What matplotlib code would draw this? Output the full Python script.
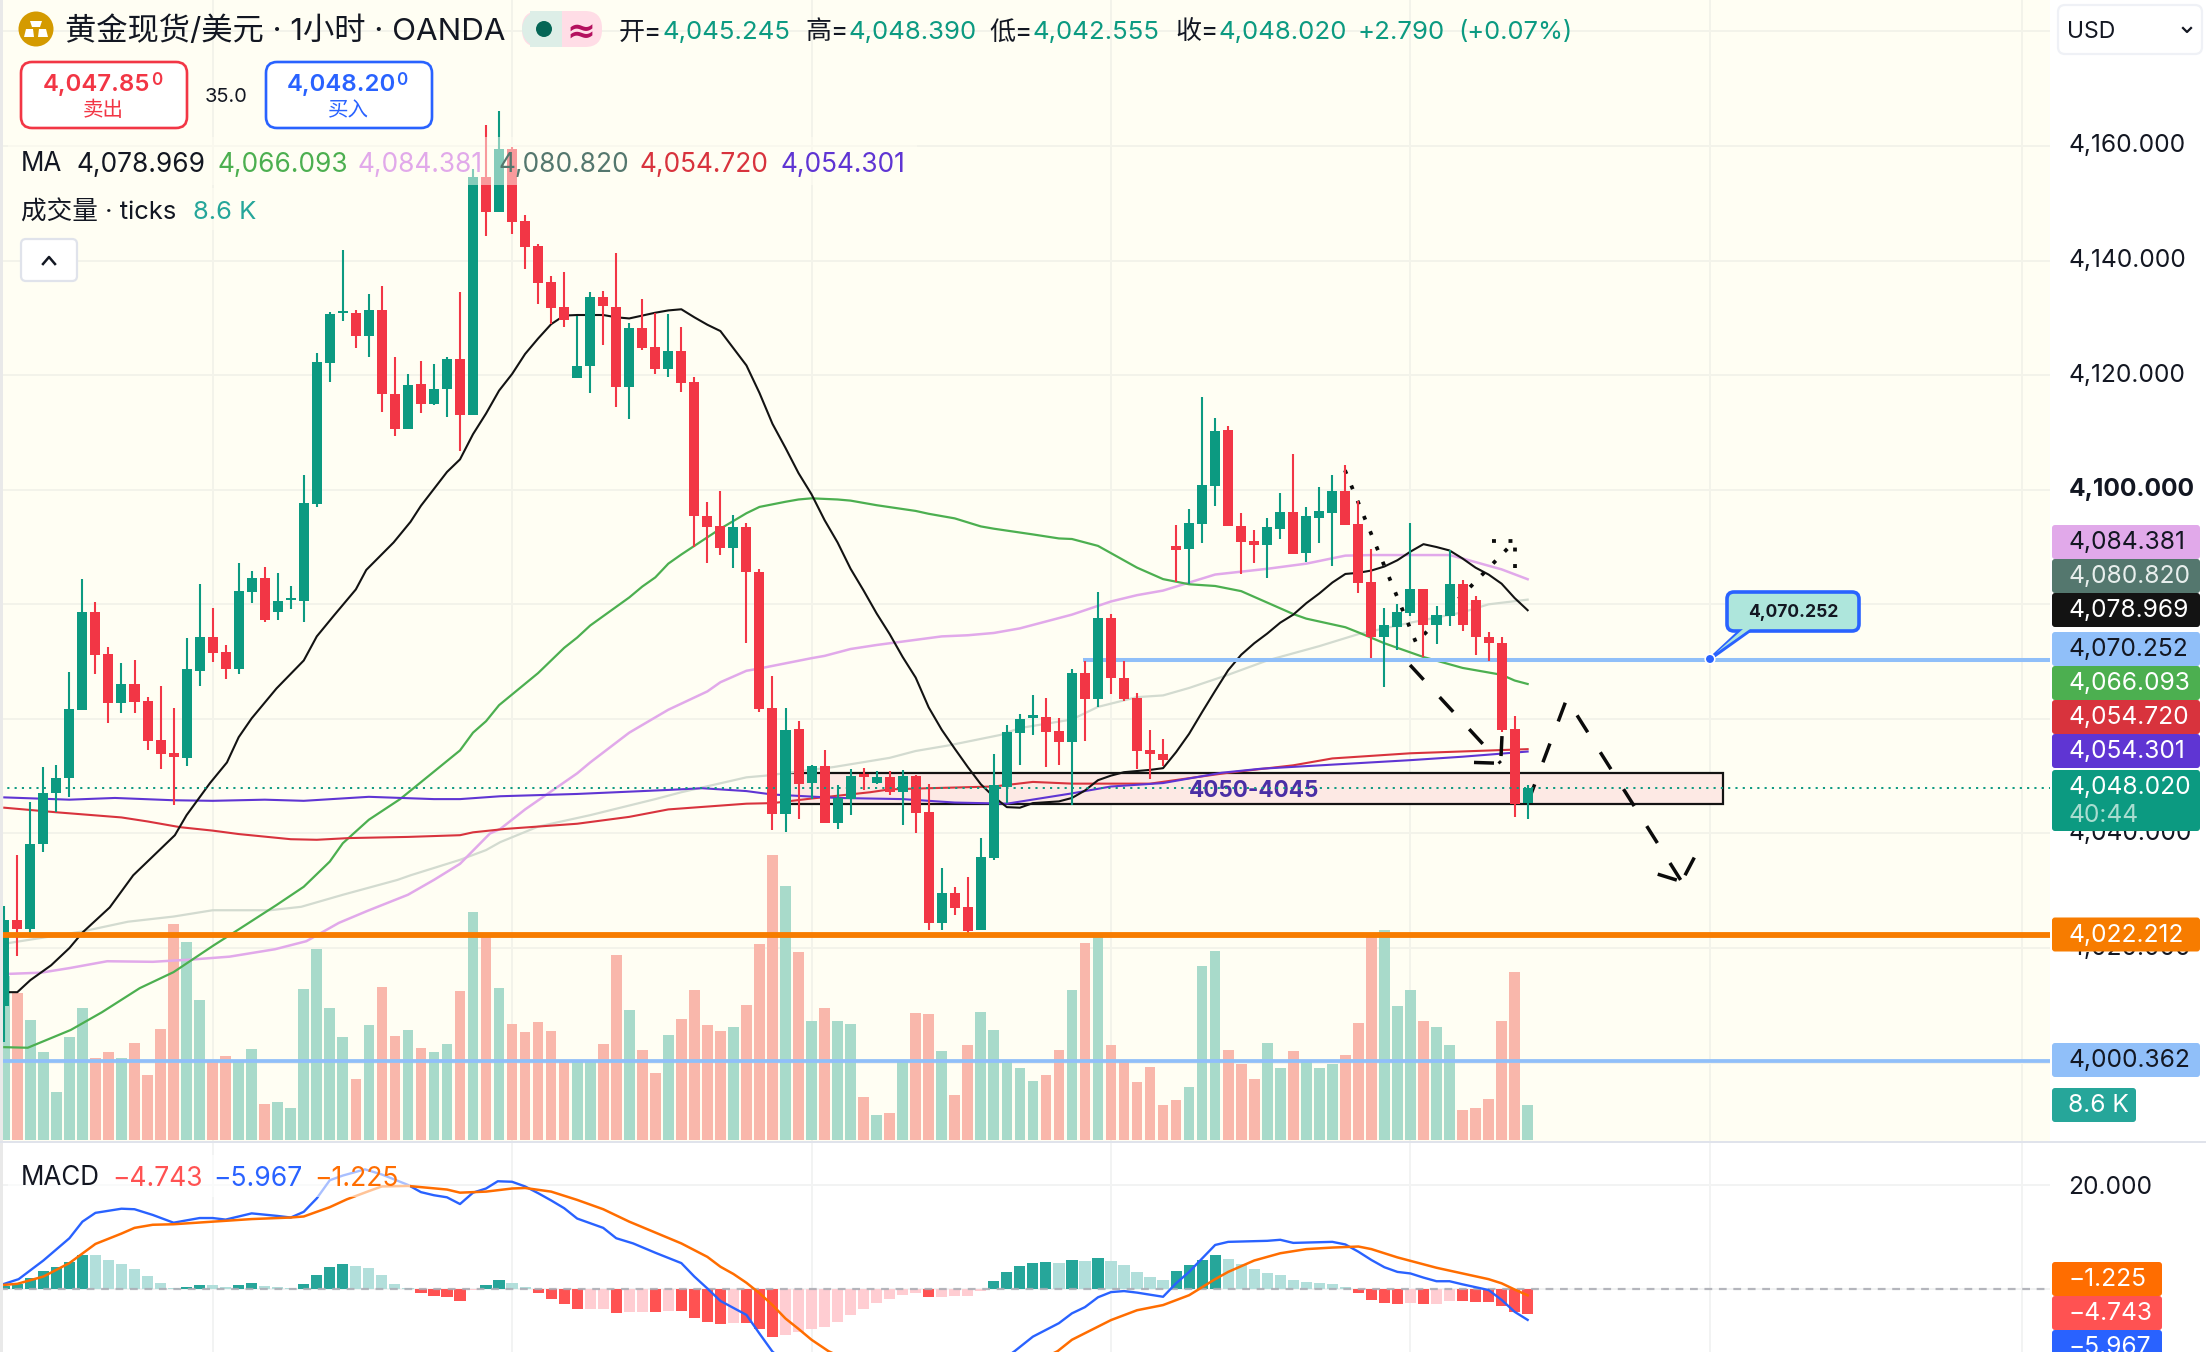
import numpy as np
import matplotlib
matplotlib.use('Agg')
import matplotlib.pyplot as plt
from matplotlib.patches import Circle, FancyBboxPatch, Polygon, Rectangle
from matplotlib.transforms import offset_copy

plt.rcParams['font.family'] = ['Inter', 'Noto Sans CJK SC', 'DejaVu Sans']

# hourly candles
bar_open = [4009.9, 4024.9, 4023.4, 4038.1, 4047.0, 4049.6, 4061.6, 4078.7, 4071.4, 4062.8,
            4066.1, 4063.1, 4056.3, 4054.1, 4053.2, 4068.4, 4074.3, 4071.7, 4068.7, 4082.2,
            4084.6, 4078.7, 4080.7, 4080.6, 4097.5, 4122.1, 4130.8, 4130.8, 4126.8, 4131.4,
            4116.7, 4110.6, 4118.5, 4115.0, 4117.5, 4122.8, 4113.0, 4154.6, 4148.5, 4159.5,
            4146.9, 4142.5, 4136.3, 4131.9, 4119.5, 4121.6, 4133.6, 4131.9, 4117.9, 4128.3,
            4124.9, 4121.1, 4124.2, 4118.8, 4095.4, 4093.6, 4089.8, 4093.5, 4085.6, 4061.9,
            4043.4, 4058.2, 4048.8, 4051.7, 4041.9, 4046.0, 4050.2, 4048.8, 4049.9, 4047.2,
            4050.0, 4043.8, 4024.4, 4029.6, 4027.2, 4023.2, 4035.7, 4048.1, 4057.6, 4060.2,
            4060.3, 4057.9, 4055.9, 4068.0, 4063.4, 4077.6, 4067.2, 4063.7, 4054.6, 4053.9,
            4090.2, 4089.7, 4094.0, 4100.6, 4110.4, 4093.7, 4091.0, 4090.4, 4093.2, 4096.1,
            4089.0, 4095.1, 4096.0, 4099.8, 4094.0, 4083.9, 4074.3, 4076.1, 4078.4, 4082.7,
            4076.4, 4077.9, 4083.6, 4080.8, 4074.3, 4073.3, 4058.2, 4045.245]
bar_high = [4027.3, 4036.3, 4045.5, 4051.6, 4052.0, 4068.2, 4084.4, 4080.4, 4072.6, 4069.8,
            4070.3, 4063.8, 4065.8, 4061.9, 4074.1, 4083.5, 4079.4, 4072.9, 4087.2, 4085.8,
            4086.5, 4085.5, 4083.2, 4102.5, 4123.9, 4131.0, 4141.8, 4131.4, 4134.2, 4135.6,
            4123.1, 4120.2, 4122.5, 4121.9, 4123.1, 4134.5, 4156.0, 4163.7, 4166.1, 4159.8,
            4148.0, 4142.9, 4137.3, 4138.0, 4130.4, 4134.5, 4134.7, 4141.3, 4129.1, 4133.3,
            4130.8, 4130.7, 4128.4, 4119.7, 4097.9, 4099.8, 4095.6, 4094.2, 4086.2, 4067.5,
            4061.9, 4059.7, 4052.0, 4054.6, 4048.4, 4051.3, 4051.4, 4050.9, 4050.9, 4051.1,
            4050.2, 4048.7, 4034.0, 4030.7, 4032.4, 4039.2, 4053.9, 4058.9, 4060.9, 4064.2,
            4063.7, 4060.2, 4068.7, 4070.1, 4082.1, 4078.3, 4070.1, 4064.6, 4058.1, 4056.5,
            4093.9, 4096.7, 4116.2, 4112.5, 4111.1, 4096.0, 4093.0, 4095.1, 4099.5, 4106.3,
            4097.0, 4100.5, 4102.6, 4104.3, 4098.0, 4089.7, 4079.4, 4080.0, 4094.2, 4082.7,
            4079.7, 4089.4, 4084.2, 4081.4, 4075.1, 4074.3, 4060.5, 4048.39]
bar_low = [4003.6, 4018.6, 4022.2, 4036.7, 4043.8, 4046.4, 4061.6, 4067.8, 4059.3, 4061.0,
           4061.0, 4054.6, 4051.3, 4044.9, 4051.7, 4065.8, 4069.9, 4067.0, 4067.8, 4080.3,
           4076.9, 4077.3, 4079.2, 4076.9, 4096.9, 4118.8, 4129.5, 4124.7, 4123.1, 4113.6,
           4109.4, 4110.6, 4113.4, 4114.8, 4112.7, 4106.8, 4113.0, 4144.3, 4148.5, 4144.6,
           4138.5, 4132.4, 4128.9, 4128.4, 4119.5, 4116.9, 4125.3, 4114.5, 4112.3, 4124.4,
           4120.2, 4119.7, 4117.0, 4090.0, 4087.2, 4088.6, 4086.4, 4073.3, 4061.2, 4040.6,
           4040.3, 4042.5, 4046.1, 4041.9, 4040.8, 4043.2, 4047.6, 4048.7, 4046.8, 4041.5,
           4040.1, 4023.2, 4023.2, 4025.8, 4022.2, 4023.2, 4035.4, 4045.3, 4051.9, 4057.2,
           4051.6, 4051.9, 4045.0, 4056.1, 4062.1, 4064.4, 4063.2, 4051.3, 4049.5, 4051.7,
           4083.9, 4083.6, 4090.7, 4097.2, 4093.7, 4085.3, 4087.2, 4084.6, 4091.4, 4088.8,
           4087.4, 4090.7, 4086.7, 4093.8, 4081.9, 4070.7, 4065.5, 4072.1, 4078.0, 4070.8,
           4073.1, 4076.2, 4075.3, 4071.2, 4070.1, 4057.8, 4042.9, 4042.555]
bar_close = [4024.9, 4023.4, 4038.2, 4047.1, 4049.7, 4061.8, 4078.7, 4071.2, 4062.8, 4066.1,
             4063.0, 4056.1, 4053.9, 4053.3, 4068.7, 4074.3, 4071.5, 4068.7, 4082.3, 4084.6,
             4077.2, 4080.6, 4080.8, 4097.6, 4122.3, 4130.7, 4131.2, 4126.8, 4131.4, 4116.7,
             4110.6, 4118.3, 4115.0, 4117.6, 4122.8, 4113.0, 4154.6, 4148.5, 4159.5, 4146.7,
             4142.4, 4136.1, 4131.7, 4129.6, 4121.6, 4133.6, 4132.0, 4117.9, 4128.3, 4124.7,
             4121.1, 4124.2, 4118.7, 4095.4, 4093.5, 4089.8, 4093.5, 4085.6, 4061.8, 4043.4,
             4058.1, 4048.7, 4051.7, 4041.9, 4046.2, 4050.0, 4049.9, 4049.9, 4047.2, 4050.0,
             4043.6, 4024.4, 4029.6, 4027.0, 4022.9, 4035.9, 4048.4, 4057.7, 4060.0, 4060.4,
             4057.7, 4055.9, 4068.0, 4063.4, 4077.6, 4067.2, 4063.5, 4054.4, 4053.9, 4052.8,
             4089.5, 4094.2, 4100.8, 4110.2, 4093.7, 4090.9, 4090.4, 4093.5, 4096.1, 4088.8,
             4095.4, 4096.3, 4099.8, 4093.8, 4083.8, 4074.3, 4076.4, 4078.6, 4082.7, 4076.4,
             4078.1, 4083.6, 4076.4, 4074.3, 4073.3, 4058.1, 4045.2, 4048.02]

# tick volume, in thousands
bar_volume = [40.2, 36.1, 29.5, 21.6, 11.8, 25.3, 32.5, 20.1, 21.6, 20.1,
              23.9, 16.0, 27.3, 53.1, 48.7, 34.4, 19.7, 20.7, 19.7, 22.4,
              8.9, 9.3, 7.9, 37.1, 47.0, 32.5, 25.3, 15.0, 28.3, 37.6,
              25.6, 27.0, 22.6, 21.6, 23.6, 36.6, 56.1, 49.8, 37.4, 28.5,
              26.6, 29.0, 26.8, 19.7, 19.7, 19.7, 23.6, 45.5, 32.0, 22.1,
              16.5, 25.8, 29.8, 36.9, 28.3, 26.8, 27.8, 33.2, 48.2, 70.1,
              62.5, 46.2, 29.3, 32.5, 29.3, 28.5, 10.6, 6.1, 6.6, 19.7,
              31.2, 31.0, 21.9, 11.1, 23.4, 31.5, 27.0, 19.7, 17.7, 14.5,
              16.0, 22.1, 36.9, 48.4, 50.0, 23.4, 19.7, 14.3, 18.0, 8.6,
              9.8, 13.0, 42.8, 46.5, 22.1, 18.7, 15.0, 23.9, 17.7, 21.9,
              19.7, 17.7, 18.7, 20.9, 28.8, 50.0, 51.6, 33.0, 36.9, 29.3,
              27.8, 23.4, 7.4, 7.9, 10.1, 29.3, 41.3, 8.6]

# moving averages, read at turning points along each line
ma_black_x = [0, 1, 2, 3.6, 5, 6, 8.1, 9.9, 13.1, 14, 15.8, 17.1, 18, 19, 20.9, 23, 24, 25.3, 27, 27.8,
              29.9, 31.2, 32, 34, 35, 36, 37, 38, 39, 40, 41, 42, 43, 44, 46, 47, 48, 49, 50, 51, 52, 53,
              54, 55, 56, 57, 58, 59, 60, 61, 62, 63, 64, 65, 66, 67, 68, 69, 70, 71, 72, 73, 74, 75, 76,
              77, 78, 79, 81, 82, 83, 84, 85, 86, 88, 89, 90, 91, 92, 93, 94, 95, 96, 97, 98, 99, 100, 101,
              102, 103, 104, 105, 106, 107, 108, 109, 110, 111, 112, 113, 114, 115, 116, 117]
ma_black_y = [4012.3, 4012.3, 4014.4, 4017.0, 4020.0, 4022.7, 4027.1, 4032.7, 4039.7, 4043.2, 4048.8,
              4052.4, 4056.8, 4060.1, 4065.3, 4070.2, 4074.4, 4078.0, 4082.6, 4086.0, 4090.8, 4094.4,
              4097.2, 4103.1, 4105.3, 4109.7, 4113.3, 4117.3, 4120.2, 4123.7, 4126.4, 4128.9, 4130.4,
              4130.5, 4130.5, 4130.1, 4129.9, 4130.4, 4130.9, 4131.3, 4131.5, 4130.1, 4128.8, 4127.7,
              4124.7, 4121.7, 4116.9, 4111.5, 4107.3, 4102.9, 4099.2, 4094.7, 4090.8, 4086.2, 4082.4,
              4078.4, 4074.8, 4070.8, 4067.2, 4062.0, 4058.1, 4054.8, 4051.6, 4048.6, 4046.4, 4044.6,
              4044.5, 4045.3, 4045.6, 4046.2, 4047.5, 4049.3, 4050.1, 4050.7, 4051.1, 4051.4, 4054.2,
              4057.4, 4061.2, 4064.9, 4068.5, 4071.2, 4073.2, 4074.9, 4076.8, 4078.2, 4080.2, 4081.9,
              4083.8, 4085.3, 4085.5, 4085.9, 4086.6, 4087.7, 4089.2, 4090.5, 4090.0, 4089.4, 4088.0,
              4086.4, 4085.2, 4083.6, 4081.1, 4078.969]
ma_green_x = [0, 1.8, 5.1, 7.5, 10.4, 13, 16.1, 18.1, 20.9, 23, 25, 26, 28, 30.4, 33, 35, 36, 37, 38, 41,
              43, 44, 45, 48, 49, 50, 51, 52, 55, 57, 58, 60, 61, 62, 64, 65, 67, 70, 71, 73, 75, 76, 79,
              81, 82, 84, 87, 89, 91, 93, 95, 96, 99, 100, 103, 104, 106, 109, 112, 115, 116, 117]
ma_green_y = [4002.7, 4002.6, 4005.7, 4008.8, 4013.0, 4015.8, 4020.5, 4023.4, 4027.5, 4030.7, 4035.1,
              4038.3, 4042.4, 4046.0, 4050.8, 4054.5, 4057.6, 4059.6, 4062.4, 4068.0, 4072.4, 4074.2,
              4076.3, 4081.2, 4083.1, 4084.7, 4087.1, 4088.7, 4093.2, 4095.9, 4097.0, 4097.9, 4098.3,
              4098.5, 4098.3, 4098.1, 4097.3, 4096.3, 4095.8, 4095.0, 4093.6, 4093.2, 4092.2, 4091.5,
              4091.4, 4090.2, 4086.4, 4084.4, 4083.5, 4083.2, 4082.3, 4081.3, 4078.3, 4077.5, 4076.0,
              4075.1, 4073.2, 4070.8, 4068.9, 4067.7, 4066.7, 4066.093]
ma_pink_x = [0.4, 2.8, 5, 7.9, 11.4, 14.4, 17.3, 20.8, 23.2, 25.7, 27.9, 31, 33, 35, 37.3, 38.1, 40, 44, 45,
             48, 51, 54, 55, 57, 58, 62, 63, 65, 67, 70, 72, 74, 76, 78, 82, 85, 87, 89, 91, 93, 97, 100,
             103, 105, 111, 112, 115, 117]
ma_pink_y = [4015.5, 4015.7, 4016.5, 4017.7, 4017.6, 4018.0, 4018.5, 4019.8, 4021.2, 4024.4, 4026.5,
             4029.3, 4031.9, 4034.7, 4040.0, 4040.8, 4044.2, 4050.5, 4052.4, 4057.6, 4061.6, 4064.8,
             4066.4, 4068.4, 4068.8, 4070.6, 4071.0, 4072.2, 4072.9, 4073.8, 4074.4, 4074.6, 4075.0,
             4075.8, 4078.2, 4080.5, 4081.6, 4082.4, 4083.8, 4085.2, 4086.2, 4087.1, 4088.5, 4088.6,
             4088.6, 4088.0, 4086.1, 4084.381]
ma_gray_x = [0.4, 6, 9.5, 13, 16, 20.4, 22.8, 26, 30.2, 31.2, 35, 37, 38.1, 41, 45, 50, 52, 57, 58.5, 63.7,
             68, 70, 72.6, 76.5, 78, 82, 84, 87, 89, 91, 94, 97, 101, 104, 108, 112, 114, 117]
ma_gray_y = [4020.9, 4022.9, 4024.6, 4025.5, 4026.6, 4026.6, 4027.2, 4029.3, 4031.9, 4032.7, 4035.4,
             4037.1, 4038.5, 4041.2, 4043.2, 4046.0, 4047.2, 4049.8, 4050.1, 4051.6, 4053.2, 4054.4,
             4055.4, 4057.2, 4058.4, 4059.9, 4062.1, 4063.8, 4064.1, 4065.4, 4067.7, 4070.2, 4072.7,
             4074.8, 4076.8, 4078.6, 4080.0, 4080.82]
ma_red_x = [0, 4, 9, 11, 13.5, 16, 18, 22, 24, 26.5, 31, 35, 36, 38.5, 44, 48, 51, 57, 59, 62, 66.5, 68, 71,
            76, 79, 82, 88, 94, 99, 102, 108, 117]
ma_red_y = [4044.5, 4043.7, 4042.8, 4042.1, 4041.1, 4040.5, 4039.9, 4039.0, 4038.9, 4039.2, 4039.4,
            4039.7, 4040.2, 4040.8, 4041.7, 4042.9, 4044.2, 4045.2, 4045.3, 4046.1, 4047.2, 4047.7,
            4047.9, 4048.2, 4049.0, 4048.7, 4048.7, 4050.6, 4051.9, 4053.1, 4054.0, 4054.72]
ma_purple_x = [0, 5, 8.5, 13, 16, 20, 23, 28, 33, 35, 38.1, 44, 51, 53.6, 57, 59, 64, 69, 73, 77, 82, 85, 89,
               93.5, 96.5, 108, 112, 117]
ma_purple_y = [4046.3, 4045.9, 4046.2, 4045.8, 4045.7, 4045.9, 4045.7, 4046.4, 4046.0, 4046.0, 4046.5,
               4046.9, 4047.6, 4047.9, 4047.4, 4046.8, 4046.2, 4046.0, 4045.4, 4045.2, 4047.0, 4048.2,
               4048.8, 4050.6, 4051.3, 4052.8, 4053.4, 4054.301]

# MACD pane
hist_values = [0.6, 1.0, 2.1, 3.5, 4.2, 5.2, 6.6, 6.6, 5.6, 4.8,
               3.9, 2.5, 1.2, 0.2, 0.4, 0.8, 0.8, 0.4, 0.8, 1.2,
               0.6, 0.4, 0.1, 1.0, 2.7, 4.2, 4.8, 4.4, 4.1, 2.7,
               1.0, 0.2, -0.8, -1.35, -1.5, -2.3, -0.2, 0.8, 1.7, 1.2,
               0.4, -0.8, -1.9, -2.9, -3.9, -3.9, -3.9, -4.6, -4.4, -4.4,
               -4.4, -4.2, -4.2, -5.6, -6.4, -6.8, -6.6, -6.6, -7.7, -9.3,
               -8.9, -8.3, -7.7, -7.3, -6.4, -5.0, -3.9, -2.7, -1.9, -1.2,
               -0.8, -1.5, -1.5, -1.35, -1.35, -0.4, 1.5, 3.3, 4.4, 5.0,
               5.2, 5.0, 5.6, 5.4, 6.0, 5.4, 4.6, 3.3, 2.3, 1.7,
               3.5, 4.6, 5.6, 6.6, 5.8, 4.8, 3.9, 3.1, 2.7, 1.7,
               1.35, 1.2, 1.0, 0.4, -0.8, -2.1, -2.7, -2.9, -2.7, -2.9,
               -2.9, -2.3, -2.3, -2.5, -2.5, -3.3, -4.4, -4.743]
hist_kind = ("GGGGGGGggg" "ggggGGggGG" "gggGGGGggg" "ggRRRRrGGg" "gRRRRrrRrr" "RrRRRRrRRR"
             "rrrrrrrrrr" "rRrrrrGGGG" "GgGgGggggg" "GGGGgggggg" "ggggRRRRrR" "rrRRRRRR")
macd_x = [0, 1.1, 3, 5, 6, 7, 9, 10, 11.4, 13, 15, 16, 17, 19, 21, 22, 23, 24, 25, 26, 27.7, 29, 31, 32, 33,
          34, 35, 36, 37, 37.9, 39, 40, 41, 42, 43, 44, 46, 47, 48.3, 50, 52, 53, 54, 55, 57, 58, 59, 65,
          72, 77.6, 79, 81, 82, 83, 84, 85, 86, 87, 89, 90, 91, 92, 93, 94, 97, 98, 99, 102, 103, 104, 105,
          106, 107, 108, 109, 110, 111, 112, 114, 115, 116, 117]
macd_y = [1.0, 1.9, 5.5, 9.8, 13.0, 14.7, 15.5, 15.4, 14.3, 12.8, 13.7, 13.7, 13.4, 14.6, 14.1, 13.8, 14.9,
          17.5, 21.0, 21.9, 23.1, 22.1, 20.1, 18.7, 18.1, 17.7, 16.4, 18.6, 19.4, 20.8, 20.7, 19.8, 18.5,
          17.1, 15.6, 13.6, 11.8, 9.8, 8.8, 7.0, 5.0, 2.4, 0.1, -2.3, -5.0, -8.6, -12.1, -24.0, -22.0, -12.0,
          -9.2, -6.6, -4.7, -3.5, -1.6, -0.6, -0.4, -0.7, -1.5, 1.1, 3.3, 5.9, 8.5, 9.1, 9.3, 9.5, 8.9, 9.1,
          8.6, 7.2, 5.6, 4.2, 3.3, 3.0, 2.2, 1.5, 1.5, 0.9, -0.2, -2.1, -4.4, -5.967]
signal_x = [0, 1, 3, 5, 7, 9, 10, 11.4, 13, 16, 19, 22, 23, 25, 26.3, 28, 29, 31, 34, 35, 37, 39, 40, 42, 44,
            46, 48, 50, 52, 54, 55, 56, 57, 58, 59, 60, 61, 62, 63.3, 70, 76, 80.9, 82, 85, 87, 89, 91, 93,
            94, 96, 98, 100, 102, 104, 105, 107, 110, 112, 114, 115, 116, 117]
signal_y = [0.8, 1.0, 2.4, 5.0, 8.7, 10.7, 11.8, 12.4, 12.5, 13.0, 13.5, 13.8, 14.0, 15.8, 17.3, 18.9, 19.8,
            19.9, 19.2, 18.6, 18.8, 19.4, 19.5, 18.8, 17.2, 15.4, 13.0, 10.9, 8.8, 6.2, 4.3, 2.9, 1.2, -0.8,
            -3.1, -5.7, -7.7, -9.8, -12.0, -20.0, -18.0, -12.0, -9.8, -6.0, -4.1, -3.1, -1.2, 1.9, 3.3, 5.5,
            6.9, 7.7, 8.0, 8.2, 7.7, 6.1, 4.1, 3.0, 1.9, 1.1, -0.1, -1.225]

# horizontal levels and the marked zone
level_orange = 4022.212
level_blue_low = 4000.362
level_blue_high = 4070.252
last_price = 4048.02
zone_top, zone_bottom = 4050.6, 4045.1
zone_start, zone_end = 60, 132.03
zone_text_x = 95.95

# hand drawn paths: bar number, price
arrow1_x = [107.97, 114.93]
arrow1_y = [4069.4, 4052.25]
arrow1_barb_x = [112.88, 114.93, 115.03]
arrow1_barb_y = [4052.4, 4052.25, 4057.0]
arrow2_x = [117.0, 120.0, 128.83]
arrow2_y = [4045.3, 4063.5, 4031.6]
arrow2_barb_x = [126.99, 128.83, 129.8]
arrow2_barb_y = [4032.9, 4031.6, 4035.8]
dots_x = [102.97, 108.43, 116.0]
dots_y = [4103.4, 4073.3, 4091.0]
dots_barb_x = [114.3, 116.0, 116.0]
dots_barb_y = [4091.0, 4091.0, 4086.4]

price_ticks = [4180, 4160, 4140, 4120, 4100, 4080, 4060, 4040, 4020, 4000]
price_labels = [4160, 4140, 4120, 4100, 4040, 4020]
session_bars = [16, 39, 62, 85, 108, 131, 155]

tag_values = [4084.381, 4080.820, 4078.969, 4070.252, 4066.093, 4054.720, 4054.301, 4022.212, 4000.362]
tag_tops = [525, 559, 593, 632, 666, 700, 734, 917.5, 1043]
tag_fill = ['#E1A9EA', '#54776E', '#131313', '#90BFF9', '#4CAF50', '#D8333D', '#5F35D3', '#F77C00', '#90BFF9']
tag_ink = ['#131722', '#E8EEEC', 'white', '#131722', 'white', 'white', 'white', 'white', '#131722']

INK = '#131722'
CREAM = '#FFFEF3'
UP, DOWN = '#0C9A81', '#F23645'
GRID = '#F3F3EA'
FIG_W, FIG_H = 2206, 1352
PANE_R = 2050
BAR0, STEP = 4.3, 13.02
PX_PER_USD = 5.729
PX_PER_MACD = 5.18

fig = plt.figure(figsize=(FIG_W / 100, FIG_H / 100), dpi=100, facecolor='white')


def pane(top, bottom, zorder):
    ax = fig.add_axes([0, 1 - bottom / FIG_H, PANE_R / FIG_W, (bottom - top) / FIG_H], zorder=zorder)
    ax.set_xlim(-BAR0 / STEP, (PANE_R - BAR0) / STEP)
    ax.tick_params(length=0, labelbottom=False, labelleft=False)
    for s in ax.spines.values():
        s.set_visible(False)
    return ax


x = np.arange(len(bar_open))
o, h, l, c = map(np.array, (bar_open, bar_high, bar_low, bar_close))
rising = c >= o

# background and grid
price_lim = (4160 - (1141 - 146) / PX_PER_USD, 4160 + 146 / PX_PER_USD)
ax_grid = pane(0, 1141, 1)
ax_grid.set_facecolor(CREAM)
ax_grid.set_ylim(price_lim)
ax_grid.set_xticks(session_bars)
ax_grid.set_yticks(price_ticks)
ax_grid.grid(True, color=GRID, lw=1.4)
ax_grid.set_axisbelow(True)

# volume sits at the bottom of the price pane
ax_vol = pane(0, 1141, 2)
ax_vol.patch.set_visible(False)
ax_vol.set_xticks([])
ax_vol.set_yticks([])
ax_vol.set_ylim(-1 / 4.07, 1140 / 4.07)
ax_vol.bar(x, bar_volume, width=0.82, color=np.where(rising, '#A8DACA', '#F9B7AB'), linewidth=0)

ax = pane(0, 1141, 3)
ax.patch.set_visible(False)
ax.set_xticks([])
ax.set_yticks([])
ax.set_ylim(price_lim)

ax.add_patch(Rectangle((zone_start, zone_bottom), zone_end - zone_start, zone_top - zone_bottom,
                       facecolor='#FDE9E4', edgecolor='#131313', lw=1.6, zorder=1))
ax.text(zone_text_x, np.mean([zone_top, zone_bottom]), '4050-4045', color='#4A2FA5',
        fontsize=16.2, fontweight='bold', ha='center', va='center_baseline', zorder=1.5)

ax.plot(ma_gray_x, ma_gray_y, color='#D3DBD0', lw=1.6, zorder=2)
ax.plot(ma_pink_x, ma_pink_y, color='#E1A9EA', lw=1.8, zorder=2)
ax.plot(ma_green_x, ma_green_y, color='#4CAF50', lw=1.6, zorder=2)
ax.plot(ma_red_x, ma_red_y, color='#D8333D', lw=1.5, zorder=2)
ax.plot(ma_purple_x, ma_purple_y, color='#5F35D3', lw=1.5, zorder=2)
ax.plot(ma_black_x, ma_black_y, color='#131313', lw=1.5, zorder=2)

ax.hlines(level_blue_high, 82.85, ax.get_xlim()[1], color='#90BFF9', lw=2.9, zorder=2.5)

# drawings
dash = dict(color='#0B0B0B', lw=2.5, linestyle=(0, (5.76, 6.8)), zorder=3, dash_capstyle='butt')
ax.plot(arrow1_x, arrow1_y, **dash)
ax.plot(arrow2_x, arrow2_y, **dash)
for bx, by in ((arrow1_barb_x, arrow1_barb_y), (arrow2_barb_x, arrow2_barb_y)):
    ax.plot(bx[:2], by[:2], **dash)
    ax.plot(bx[:0:-1], by[:0:-1], **dash)
dots = dict(color='#0B0B0B', lw=2.7, linestyle=(0, (1.05, 3.35)), zorder=3, dash_capstyle='butt')
ax.plot(dots_x, dots_y, **dots)
ax.plot(dots_barb_x[:2], dots_barb_y[:2], **dots)
ax.plot(dots_barb_x[:0:-1], dots_barb_y[:0:-1], **dots)

# candles
ax.vlines(x, l, h, colors=np.where(rising, UP, DOWN), lw=1.5, zorder=4)
ax.bar(x, np.maximum(np.abs(c - o), 0.4), bottom=np.minimum(o, c), width=0.77,
       color=np.where(rising, UP, DOWN), linewidth=0, zorder=4)

ax.axhline(level_orange, color='#F77C00', lw=4.2, zorder=5)
ax.axhline(level_blue_low, color='#90BFF9', lw=2.7, zorder=5)
ax.axhline(last_price, color=UP, lw=1.4, linestyle=(0, (1.1, 2.65)), zorder=6)

# price scale text
label_tf = offset_copy(ax.get_yaxis_transform(), fig, x=18.5, y=2.5, units='dots')
for p in price_labels:
    ax.text(1, p, f'{p:,.3f}', transform=label_tf, clip_on=False, fontsize=17.7, color=INK, va='center_baseline',
            fontweight='bold' if p == 4100 else 'normal', zorder=1)

# MACD
ax_m = pane(1143, FIG_H, 3)
ax_m.set_ylim((1289 - FIG_H) / PX_PER_MACD, (1289 - 1143) / PX_PER_MACD)
ax_m.set_xticks(session_bars)
ax_m.set_yticks([0, 20])
ax_m.grid(True, color='#F2F3F3', lw=1.4)
ax_m.set_axisbelow(True)
kinds = {'G': '#26A69A', 'g': '#B2DFDB', 'R': '#FF5252', 'r': '#FFCDD2'}
ax_m.bar(x, hist_values, width=0.86, color=[kinds[k] for k in hist_kind], linewidth=0, zorder=2)
ax_m.axhline(0, color='#A9ABB3', lw=1.6, alpha=0.85, linestyle=(0, (3.5, 3)), zorder=3)
ax_m.plot(macd_x, macd_y, color='#2962FF', lw=1.7, zorder=4)
ax_m.plot(signal_x, signal_y, color='#FF6D00', lw=1.8, zorder=4)
ax_m.text(1, 20, '20.000', transform=offset_copy(ax_m.get_yaxis_transform(), fig, x=18.5, y=0, units='dots'),
          clip_on=False, fontsize=17.7, color=INK, va='center_baseline')

# everything else is laid out in figure pixels
ui = fig.add_axes([0, 0, 1, 1], zorder=5)
ui.set_xlim(0, FIG_W)
ui.set_ylim(FIG_H, 0)
ui.axis('off')
ui.patch.set_visible(False)


def label(x0, yc, s, px=24, color=INK, ha='left', weight='normal'):
    ui.text(x0, yc + px * 0.364, s, fontsize=px * 0.72, color=color, ha=ha, va='baseline', fontweight=weight)


def box(x0, y0, x1, y1, fc, ec='none', lw=0, r=3, zorder=1, alpha=None):
    ui.add_patch(FancyBboxPatch((x0, y0), x1 - x0, y1 - y0, boxstyle=f'round,pad=0,rounding_size={r}',
                                fc=fc, ec=ec, lw=lw, zorder=zorder, alpha=alpha))


ui.add_patch(Rectangle((0, 0), 2.5, 1352, fc='#E9E9E9', ec='none'))
ui.add_patch(Rectangle((0, 1141), FIG_W, 2.4, fc='#E0E3EB', ec='none'))

# translucent backings behind the legends
ui.add_patch(Rectangle((8, 137), 909, 48, fc=CREAM, ec='none', alpha=0.5))
ui.add_patch(Rectangle((8, 188), 257, 42, fc=CREAM, ec='none', alpha=0.5))
ui.add_patch(Rectangle((8, 1155), 402, 42, fc='white', ec='none', alpha=0.6))

# symbol line
ui.add_patch(Circle((36, 29), 17.5, fc='#D49A00', ec='none'))
for pts in ([(32, 27), (40, 27), (42, 21), (30, 21)][::-1], [(24, 37), (34, 37), (33, 29), (26, 29)],
            [(38, 37), (48, 37), (46, 29), (39, 29)]):
    ui.add_patch(Polygon(pts, fc='white', ec='none'))
label(65, 29, '黄金现货/美元 · 1小时 · OANDA', px=31.3)
ui.add_patch(FancyBboxPatch((522, 11), 80, 36, boxstyle='round,pad=0,rounding_size=17', fc='#FFDDE6', ec='none'))
ui.add_patch(Rectangle((530, 11), 32, 36, fc='#DDEEE7', ec='none', zorder=1.1))
ui.add_patch(Circle((540, 29), 18, fc='#DDEEE7', ec='none', zorder=1.05))
ui.add_patch(Circle((544, 29), 8, fc='#056656', ec='none', zorder=2))
ui.text(581, 29, '≈', fontsize=25, color='#B4115E', fontweight='bold', ha='center', va='center_baseline', zorder=2,
        family='DejaVu Sans')

ohlc_names = [('开=', 619), ('高=', 805), ('低=', 989), ('收=', 1175)]
ohlc_vals = [('4,045.245', 663), ('4,048.390', 848), ('4,042.555', 1033), ('4,048.020', 1218)]
for s, xp in ohlc_names:
    label(xp, 30, s, px=26)
for s, xp in ohlc_vals:
    label(xp, 30, s, px=25.8, color='#0C9A81')
label(1358, 30, '+2.790', px=25.8, color='#0C9A81')
label(1458, 30, '(+0.07%)', px=25.5, color='#0C9A81')

# trade buttons
box(21, 62, 187, 128, 'white', DOWN, 1.9, 11)
box(266, 62, 432, 128, 'white', '#2962FF', 1.9, 11)
label(43, 82, '4,047.85', px=24, color=DOWN, weight=600)
label(151, 79, '0', px=17, color=DOWN, weight=600)
label(103, 109, '卖出', px=20.5, color=DOWN, ha='center')
label(287, 82, '4,048.20', px=24, color='#2962FF', weight=600)
label(396, 79, '0', px=17, color='#2962FF', weight=600)
label(348, 109, '买入', px=20.5, color='#2962FF', ha='center')
label(226, 95, '35.0', px=20, ha='center')

# indicator legends
label(21, 162, 'MA', px=26)
legend_vals = ['4,078.969', '4,066.093', '4,084.381', '4,080.820', '4,054.720', '4,054.301']
legend_cols = [INK, '#4CAF50', '#E1A9EA', '#54776E', '#D8333D', '#5F35D3']
for s, xp, col in zip(legend_vals, [76, 217.5, 357.5, 498.5, 639.5, 780.5], legend_cols):
    label(xp, 162, s, px=26.3, color=col)
label(21, 210, '成交量 · ticks', px=25.6)
label(193, 210, '8.6 K', px=25.6, color='#26A69A')
box(21, 239, 77, 281, 'white', '#E0E3EB', 1.6, 5)
ui.plot([43, 49, 55], [264, 257, 264], color=INK, lw=1.8)

label(21, 1176, 'MACD', px=26)
label(112, 1176, '−4.743', px=26.5, color='#FF5252')
label(213, 1176, '−5.967', px=26.5, color='#2962FF')
label(314, 1176, '−1.225', px=26.5, color='#FF6D00')

box(2058, 5, 2202, 54, 'white', '#EFF1F6', 1.6, 7)
label(2067, 30, 'USD', px=23)
ui.plot([2183, 2187, 2191], [28, 32, 28], color=INK, lw=1.6)

# price tags on the scale
for v, top, fill, ink in zip(tag_values, tag_tops, tag_fill, tag_ink):
    box(2052, top, 2200, top + 34, fill, r=3)
    label(2068.5, top + 15.5, f'{v:,.3f}', px=24.6, color=ink)
box(2052, 770, 2200, 831, '#0C9A81', r=3)
label(2068.5, 785, f'{last_price:,.3f}', px=24.6, color='white')
label(2068.5, 813, '40:44', px=24.6, color='#A9DDD0')
box(2052, 1088, 2136, 1122, '#26A69A', r=3)
label(2068.5, 1103.5, '8.6 K', px=24.6, color='white')

macd_tags = [('−1.225', '#FF6D00', 1262), ('−4.743', '#FF5252', 1296), ('−5.967', '#2962FF', 1330)]
for s, fill, top in macd_tags:
    box(2052, top, 2162, top + 34, fill, r=3)
    label(2068.5, top + 15.5, s, px=24.6, color='white')

# callout on the upper blue level
ui.add_patch(Polygon([(1710, 659), (1742, 629), (1752, 629)], fc='#AEE6DC', ec='#2962FF', lw=2.4, zorder=2,
                     joinstyle='round'))
box(1727, 592, 1859, 631, '#AEE6DC', '#2962FF', 2.6, 7, zorder=3)
ui.add_patch(Polygon([(1716, 653), (1743, 629), (1750, 629)], fc='#AEE6DC', ec='none', zorder=4))
label(1793, 610.5, f'{level_blue_high:,.3f}', px=17.5, ha='center', weight='bold')
ui.add_patch(Circle((1710, 659), 4.8, fc='#2962FF', ec='white', lw=1.2, zorder=5))

fig.savefig('out.png', dpi=100, facecolor='white')
